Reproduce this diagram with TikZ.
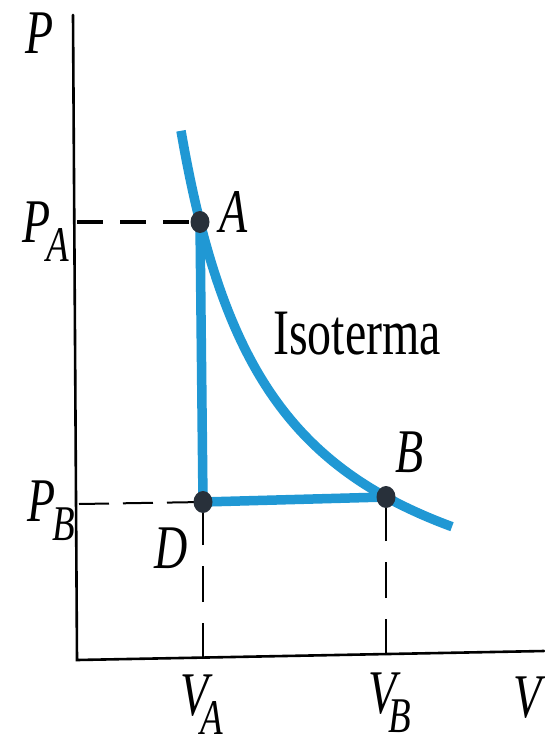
\documentclass[tikz,border=0pt]{standalone}
\usepackage{fontspec}
\setmainfont{Liberation Serif}
\usetikzlibrary{shapes.geometric}
\definecolor{iso}{RGB}{32,152,212}
\definecolor{dotc}{RGB}{40,48,58}
\newcommand{\mylbl}[1]{\scalebox{1}[1.35]{\fontsize{46}{46}\selectfont\itshape #1}}
\newcommand{\mysub}[3]{\scalebox{1}[1.35]{\fontsize{46}{46}\selectfont\itshape #1\kern#3\raisebox{-14pt}{\fontsize{37}{37}\selectfont #2}}}
\begin{document}
\begin{tikzpicture}[x=1pt,y=-1pt,
  axis/.style={line width=2.6pt,line cap=round},
  blueline/.style={draw=iso,line width=9.5pt},
  dot/.style={ellipse,fill=dotc,inner sep=0pt,minimum width=19pt,minimum height=22pt},
  dashA/.style={line width=3.2pt,dash pattern=on 26pt off 17pt},
  dashB/.style={line width=2pt,dash pattern=on 30pt off 14pt},
  dashV/.style={line width=2pt,dash pattern=on 36pt off 21pt},
  lab/.style={inner sep=0pt}]
\useasboundingbox (0,0) rectangle (544,747);
\fill[white] (0,0) rectangle (544,747);
% axes
\coordinate (ytop) at (73,15);
\coordinate (orig) at (77,660);
\coordinate (xend) at (544,651);
\draw[axis] (ytop) -- (orig) -- (xend);
% points
\coordinate (A) at (200,222);
\coordinate (D) at (203,502);
\coordinate (B) at (386,497);
\coordinate (PA) at (77,222);
\coordinate (PB) at (79,504);
\coordinate (VA) at (203,659);
\coordinate (VB) at (386,655);
% dashed guides
\draw[dashA] (PA) -- (A);
\draw[dashB] (PB) -- (D);
\draw[dashV] (VA) -- (D);
\draw[dashV] (VB) -- (B);
% isotherm
\draw[blueline] plot[domain=181:452,samples=90,smooth] (\x,{660-4829/((\x-89.75)/10)});
% process lines
\draw[blueline] (A) -- (D) -- (B);
% dots
\node[dot] (nA) at (A) {};
\node[dot] (nD) at (D) {};
\node[dot] (nB) at (B) {};
% labels
\node[lab] (lP) at (40,33) {\mylbl{P}};
\node[lab] (lPA) at (46,232) {\mysub{P}{A}{-4pt}};
\node[lab] (lPB) at (51,511) {\mysub{P}{B}{-3pt}};
\node[lab] (lA) at (234,212) {\mylbl{A}};
\node[lab] (lB) at (410,452) {\mylbl{B}};
\node[lab] (lD) at (171,548) {\mylbl{D}};
\node[lab] (lVA) at (202,705) {\mysub{V}{A}{-8pt}};
\node[lab] (lVB) at (390,703) {\mysub{V}{B}{-8pt}};
\node[lab] (lV) at (528,698) {\mylbl{V}};
\node[lab] (iso) at (357,334) {\scalebox{1}[1.35]{\fontsize{48}{48}\selectfont Isoterma}};
\end{tikzpicture}
\end{document}
